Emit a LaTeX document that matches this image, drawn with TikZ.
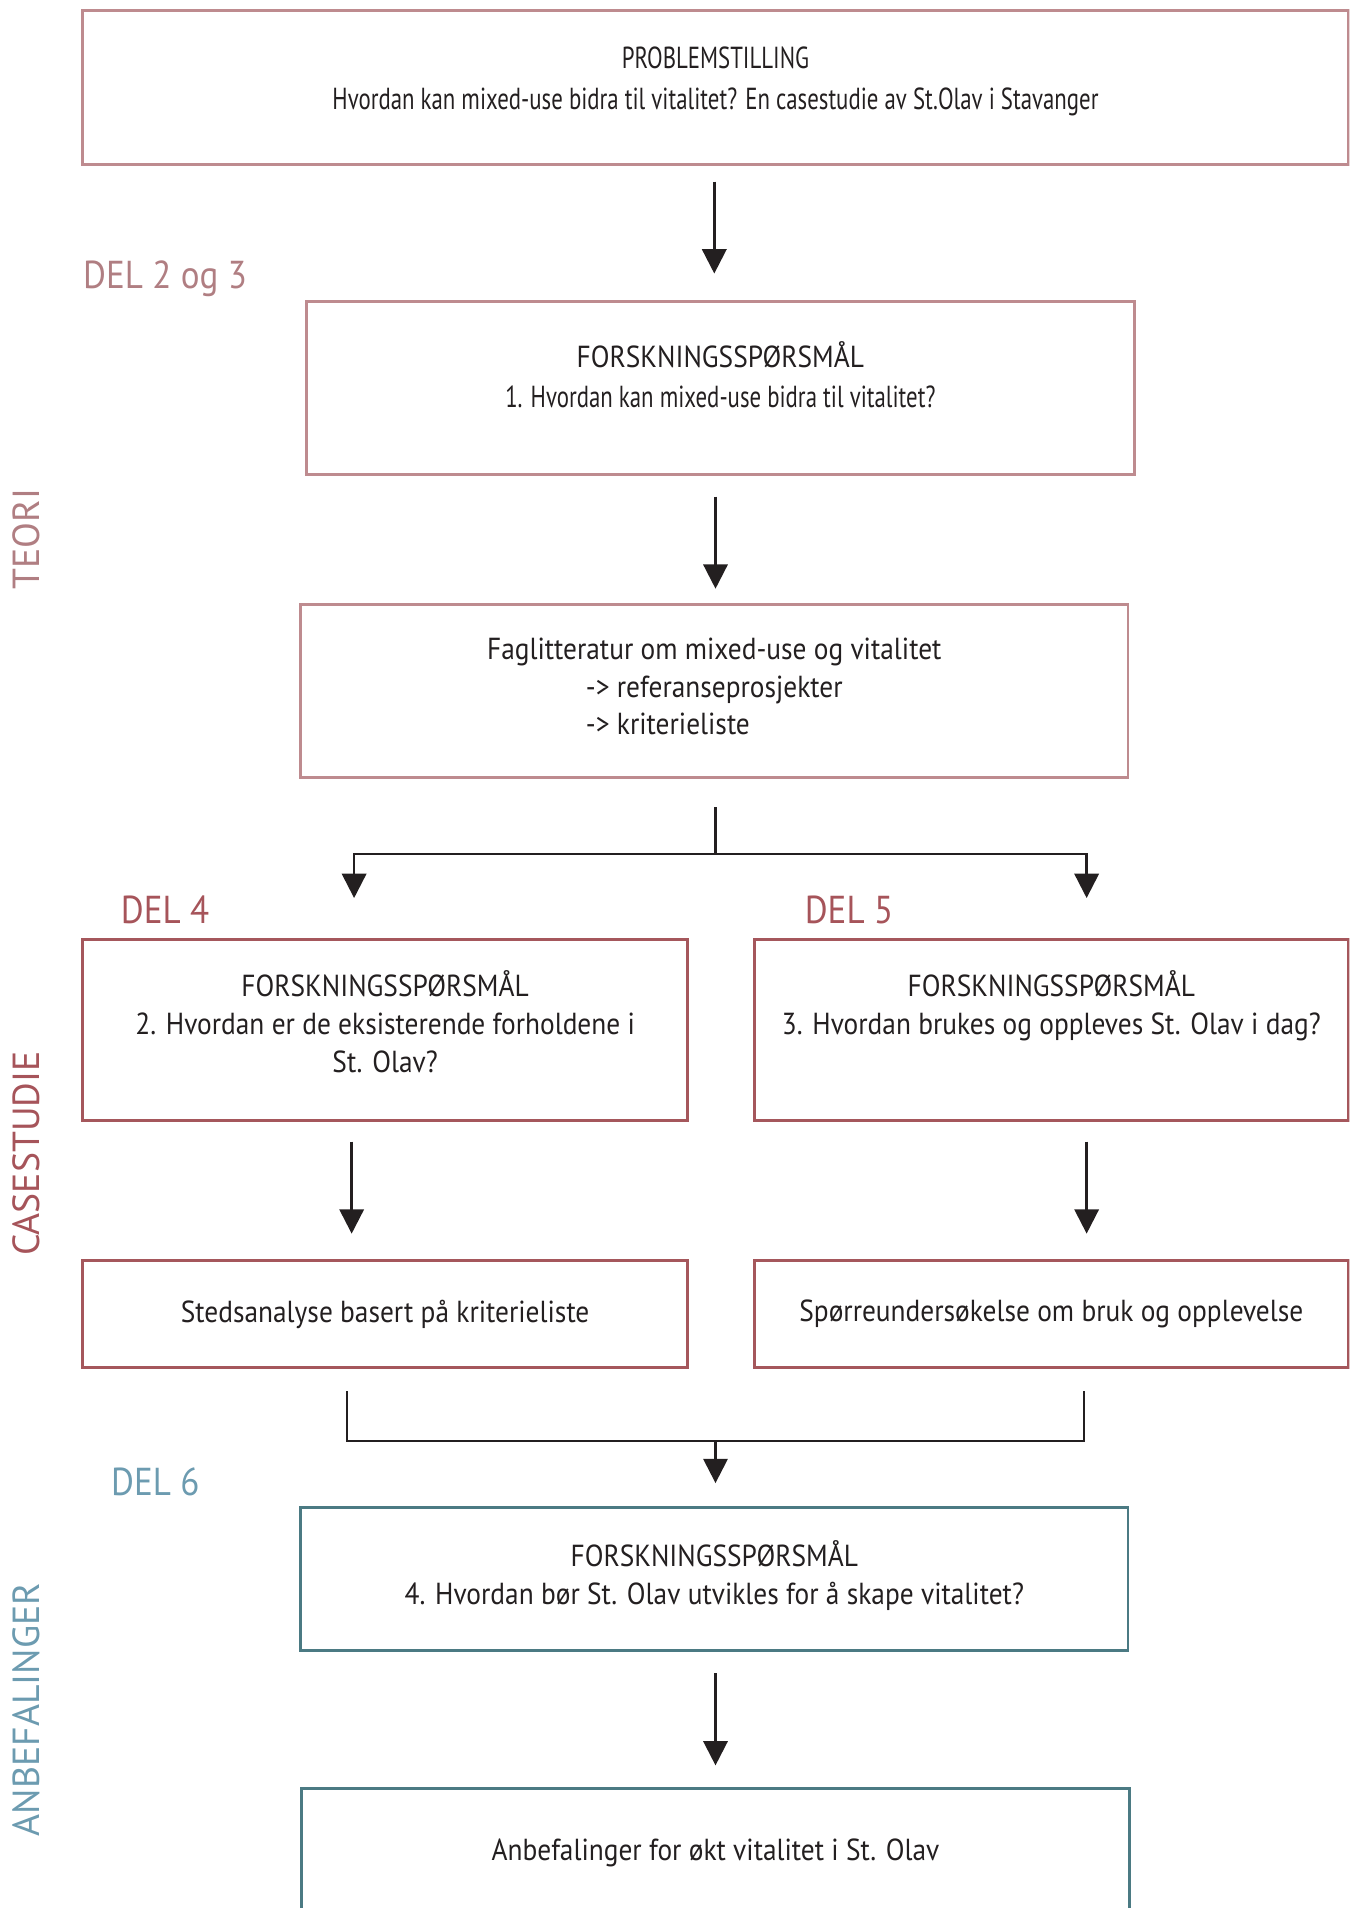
\documentclass[tikz,border=0pt]{standalone}
\usepackage{fontspec}
\usepackage{calc}
\setmainfont[FakeStretch=0.9]{PT Sans}
\newfontfamily\condf[FakeStretch=0.75]{PT Sans}
\newfontfamily\widef{PT Sans}
\usetikzlibrary{arrows.meta,calc}
\definecolor{txt}{HTML}{231F20}
\definecolor{mauveL}{HTML}{B07E82}
\definecolor{mauveBox}{HTML}{BE8B8F}
\definecolor{mauveD}{HTML}{A6545A}
\definecolor{mauveBoxD}{HTML}{A5575C}
\definecolor{tealBox}{HTML}{4B7A83}
\definecolor{tealL}{HTML}{6C9BB0}
\begin{document}
\begin{tikzpicture}[x=0.5pt,y=-0.5pt,
  box/.style={draw, line width=1.2pt, inner sep=0pt, align=center, text=txt,
    font=\fontsize{12.5}{15.5}\selectfont},
  boxA/.style={box, draw=mauveBox},
  boxB/.style={box, draw=mauveBoxD},
  boxC/.style={box, draw=tealBox},
  conn/.style={line width=1pt, draw=txt},
  arr/.style={conn, -{Triangle[width=10pt,length=10pt]}},
  lbl/.style={anchor=base west, inner sep=0pt, font=\fontsize{16}{19}\selectfont},
  rot/.style={rotate=90, inner sep=0pt, font=\widef\fontsize{15.5}{18}\selectfont}
]
\useasboundingbox (0,0) rectangle (1109,1568);
\clip (0,0) rectangle (1109,1568);

% boxes
\node[boxA, minimum width=520pt, minimum height=63pt, text depth=7.7pt,
      font=\condf\fontsize{12.5}{17}\selectfont] (b1) at (588,72)
  {PROBLEMSTILLING\\Hvordan kan mixed-use bidra til vitalitet? En casestudie av St.Olav i Stavanger};
\node[boxA, minimum width=340pt, minimum height=71pt, text depth=11pt,
      font=\fontsize{12.5}{16.5}\selectfont] (b2) at (592,319)
  {FORSKNINGSSPØRSMÅL\\{\condf 1. Hvordan kan mixed-use bidra til vitalitet?}};
\node[boxA, minimum width=340pt, minimum height=71pt, text depth=4pt] (b3) at (587,568)
  {Faglitteratur om mixed-use og vitalitet\\
   \makebox[\widthof{-> referanseprosjekter}][l]{-> referanseprosjekter}\\
   \makebox[\widthof{-> referanseprosjekter}][l]{-> kriterieliste}};
\node[boxB, minimum width=248.5pt, minimum height=74.5pt, text depth=7pt] (b4) at (316.5,846.5)
  {FORSKNINGSSPØRSMÅL\\2. Hvordan er de eksisterende forholdene i\\St. Olav?};
\node[boxB, minimum width=244pt, minimum height=74.5pt, text depth=7pt] (b5) at (864,846.5)
  {FORSKNINGSSPØRSMÅL\\3. Hvordan brukes og oppleves St. Olav i dag?\\\mbox{}};
\node[boxB, minimum width=248.5pt, minimum height=44pt] (b6) at (316.5,1080)
  {Stedsanalyse basert på kriterieliste};
\node[boxB, minimum width=244pt, minimum height=44pt] (b7) at (864,1080)
  {Spørreundersøkelse om bruk og opplevelse};
\node[boxC, minimum width=340pt, minimum height=58.5pt, text depth=5.2pt] (b8) at (587,1297.5)
  {FORSKNINGSSPØRSMÅL\\4. Hvordan bør St. Olav utvikles for å skape vitalitet?};
\node[boxC, minimum width=340pt, minimum height=55pt, text depth=4.7pt] (b9) at (588,1525)
  {Anbefalinger for økt vitalitet i St. Olav};

% labels
\node[lbl, text=mauveL] (d23) at (68,237) {DEL 2 og 3};
\node[lbl, text=mauveD] (d4) at (99,759) {DEL 4};
\node[lbl, text=mauveD] (d5) at (661,759) {DEL 5};
\node[lbl, text=tealL] (d6) at (91,1229) {DEL 6};
\node[rot, text=mauveL] (teori) at (22,443) {TEORI};
\node[rot, text=mauveD] (case) at (22,948) {CASESTUDIE};
\node[rot, text=tealL] (anb) at (22,1405) {ANBEFALINGER};

% connectors
\draw[arr] ($(b1.south)+(-1,13)$) -- ($(b2.north -| b1.south)+(-1,-22)$);
\draw[arr] ($(b2.south -| b3.north)+(1,17)$) -- ($(b3.north)+(1,-12)$);

\coordinate (sp) at (588,702);
\coordinate (t4) at (291,738);
\coordinate (t5) at (893,738);
\draw[conn] ($(b3.south)+(1,23)$) -- (sp);
\draw[arr] (sp) -| (t4);
\draw[arr] (sp) -| (t5);

\draw[arr] ($(b4.south)+(-27.5,16)$) -- ($(b6.north)+(-27.5,-21)$);
\draw[arr] ($(b5.south)+(29,16)$) -- ($(b7.north)+(29,-21)$);

\coordinate (m) at (588,1184);
\draw[conn] ($(b6.south)+(-31.5,18)$) |- (m);
\draw[conn] ($(b7.south)+(27,18)$) |- (m);
\draw[arr] (m) -- ($(b8.north)+(1,-19)$);
\draw[arr] ($(b8.south)+(1,18)$) -- ($(b9.north)+(0,-18)$);
\end{tikzpicture}
\end{document}
